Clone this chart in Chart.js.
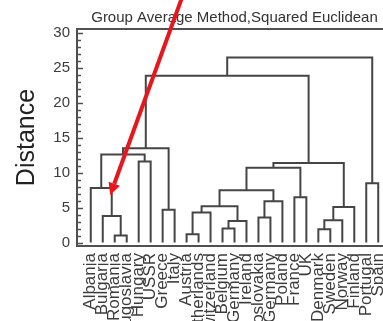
<!DOCTYPE html>
<html>
<head>
<meta charset="utf-8">
<script src="https://cdn.jsdelivr.net/npm/chart.js@4.4.0/dist/chart.umd.min.js"></script>
<style>
  html, body { margin: 0; padding: 0; background: #fff; overflow: hidden; }
  #wrap { width: 383px; height: 321px; overflow: hidden; }
</style>
</head>
<body>
<div id="wrap"><canvas id="myChart" width="400" height="400"></canvas></div>
<script>

const countries = ['Albania', 'Bulgaria', 'Romania', 'Yugoslavia', 'Hungary', 'USSR', 'Greece', 'Italy',
  'Austria', 'Netherlands', 'Switzerland', 'Belgium', 'W Germany', 'Ireland', 'Czechoslovakia',
  'E Germany', 'Poland', 'France', 'UK', 'Denmark', 'Sweden', 'Norway', 'Finland', 'Portugal', 'Spain'];

// linkage table: ids below 25 are countries, 25 and up are the earlier merges in order
const mergeLeft   = [2, 8, 19, 11, 28, 27, 14, 1, 26, 6, 33, 30, 31, 17, 35, 0, 23, 39, 42, 4, 40, 45, 46, 47];
const mergeRight  = [3, 9, 20, 12, 13, 21, 15, 25, 10, 7, 29, 22, 16, 18, 37, 32, 24, 38, 36, 5, 44, 34, 43, 41];
const mergeHeight = [1.0, 1.2, 1.9, 2.0, 3.1, 3.2, 3.6, 3.8, 4.3, 4.7, 5.2, 5.1, 5.9, 6.5, 7.5, 7.8, 8.5,
  10.7, 11.4, 11.6, 12.6, 13.5, 23.9, 26.5];

const distanceTicks = [0, 5, 10, 15, 20, 25, 30];

// red pointer, [x, y] in data units
const arrowFrom = [7.7, 35.5];
const arrowTo   = [1.62, 6.8];

const lineColor = '#454545';
const axisColor = '#505050';

Chart.defaults.font.family = '"Liberation Sans", Arial, sans-serif';

// walk the linkage and turn every merge into a bracket
const nodeX = countries.map((c, i) => i);
const nodeY = countries.map(() => 0);
const links = [];
mergeHeight.forEach((h, k) => {
    const a = mergeLeft[k], b = mergeRight[k];
    links.push([
        {x: nodeX[a], y: nodeY[a]},
        {x: nodeX[a], y: h},
        {x: nodeX[b], y: h},
        {x: nodeX[b], y: nodeY[b]}
    ]);
    nodeX.push((nodeX[a] + nodeX[b]) / 2);
    nodeY.push(h);
});

const frame = {
    id: 'frame',
    afterDraw(chart) {
        const {ctx, chartArea: area, scales: {x, y}} = chart;
        ctx.save();
        ctx.strokeStyle = axisColor;
        ctx.lineWidth = 2;
        ctx.beginPath();
        ctx.moveTo(area.left, area.top);
        ctx.lineTo(area.right, area.top);
        ctx.lineTo(area.right, area.bottom);
        ctx.stroke();

        // minor ticks every unit, pointing into the plot
        ctx.lineWidth = 1.5;
        y.ticks.forEach(t => {
            const py = Math.round(y.getPixelForValue(t.value)) + 0.5;
            const len = distanceTicks.includes(t.value) ? 6 : 4;
            ctx.beginPath();
            ctx.moveTo(area.left, py);
            ctx.lineTo(area.left + len, py);
            ctx.stroke();
        });

        // arrow
        const x0 = x.getPixelForValue(arrowFrom[0]), y0 = y.getPixelForValue(arrowFrom[1]);
        const x1 = x.getPixelForValue(arrowTo[0]), y1 = y.getPixelForValue(arrowTo[1]);
        const ang = Math.atan2(y1 - y0, x1 - x0);
        const head = 12, half = 6;
        const bx = x1 - head * Math.cos(ang), by = y1 - head * Math.sin(ang);
        ctx.strokeStyle = '#e8161c';
        ctx.fillStyle = '#e8161c';
        ctx.lineWidth = 4;
        ctx.beginPath();
        ctx.moveTo(x0, y0);
        ctx.lineTo(bx, by);
        ctx.stroke();
        ctx.beginPath();
        ctx.moveTo(x1, y1);
        ctx.lineTo(bx + half * Math.sin(ang), by - half * Math.cos(ang));
        ctx.lineTo(bx - half * Math.sin(ang), by + half * Math.cos(ang));
        ctx.closePath();
        ctx.fill();
        ctx.restore();
    }
};

const ctx = document.getElementById('myChart');

new Chart(ctx, {
    type: 'line',
    data: {
        datasets: links.map(pts => ({
            data: pts,
            borderColor: lineColor,
            borderWidth: 2,
            pointRadius: 0,
            tension: 0,
            fill: false
        }))
    },
    options: {
        responsive: false,
        animation: false,
        events: [],
        layout: {padding: {left: 0, top: 0, right: 8, bottom: 0}},
        scales: {
            x: {
                type: 'linear',
                min: -1.15,
                max: 25.15,
                bounds: 'data',
                afterBuildTicks: s => { s.ticks = countries.map((c, i) => ({value: i})); },
                afterFit: s => {
                    s.height = 154;
                    s.paddingLeft = 0;
                    s.paddingRight = 0;
                },
                grid: {display: false, drawTicks: false, tickLength: 0},
                border: {display: true, color: axisColor, width: 2},
                ticks: {
                    autoSkip: false,
                    minRotation: 90,
                    maxRotation: 90,
                    padding: 7,
                    color: '#3c3c3c',
                    font: {size: 17},
                    callback: v => countries[v]
                }
            },
            y: {
                min: -0.5,
                max: 30.6,
                bounds: 'data',
                afterBuildTicks: s => {
                    s.ticks = [];
                    for (let v = 0; v <= 30; v++) s.ticks.push({value: v});
                },
                afterFit: s => { s.width = 77; },
                grid: {display: false, drawTicks: false, tickLength: 0},
                border: {display: true, color: axisColor, width: 2},
                ticks: {
                    autoSkip: false,
                    padding: 7,
                    color: '#3c3c3c',
                    font: {size: 15},
                    callback: v => distanceTicks.includes(v) ? v : ''
                },
                title: {
                    display: true,
                    text: 'Distance',
                    color: '#222',
                    font: {size: 25},
                    padding: {top: 12, bottom: 0}
                }
            }
        },
        plugins: {
            legend: {display: false},
            tooltip: {enabled: false},
            title: {
                display: true,
                text: 'Group Average Method,Squared Euclidean',
                fullSize: false,
                color: '#333',
                font: {size: 15, weight: 'normal'},
                padding: {top: 9, bottom: 2}
            }
        }
    },
    plugins: [frame]
});

</script>
</body>
</html>
